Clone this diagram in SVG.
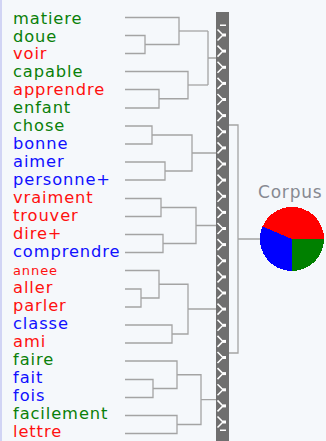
<svg xmlns="http://www.w3.org/2000/svg" xmlns:xlink="http://www.w3.org/1999/xlink" width="326" height="441" viewBox="0 0 326 441">
<style>
.lbl{font-family:"DejaVu Sans","Verdana",sans-serif;font-size:16.3px;letter-spacing:0.9px}
.g{fill:#0a800a}.r{fill:#ff1010}.b{fill:#1010ff}
.small{font-size:13px}
.ln{stroke:#a4a4a4;stroke-width:1.3;fill:none}
.corpus{font-family:"DejaVu Sans","Verdana",sans-serif;font-size:17px;letter-spacing:0.8px;fill:#878a92}
</style>
<defs>
<g id="chev"><path d="M-4.5,-5.5 L1,0 L-4.5,5.5" stroke="#fff" stroke-width="1.5" fill="none"/><rect x="1" y="-1.5" width="3" height="3" fill="#fff"/></g>
</defs>
<rect width="326" height="441" fill="#f5f8fb"/>
<line x1="1" y1="0" x2="1" y2="441" stroke="#c4c8f2" stroke-width="1.5"/>

<g id="labels">
<g id="n-matiere"><text class="lbl g" x="13" y="23.5">matiere</text></g>
<g id="n-doue"><text class="lbl g" x="13" y="41.5">doue</text></g>
<g id="n-voir"><text class="lbl r" x="13" y="59.4">voir</text></g>
<g id="n-capable"><text class="lbl g" x="13" y="77.4">capable</text></g>
<g id="n-apprendre"><text class="lbl r" x="13" y="95.3">apprendre</text></g>
<g id="n-enfant"><text class="lbl g" x="13" y="113.3">enfant</text></g>
<g id="n-chose"><text class="lbl g" x="13" y="131.3">chose</text></g>
<g id="n-bonne"><text class="lbl b" x="13" y="149.2">bonne</text></g>
<g id="n-aimer"><text class="lbl b" x="13" y="167.2">aimer</text></g>
<g id="n-personne"><text class="lbl b" x="13" y="185.1">personne+</text></g>
<g id="n-vraiment"><text class="lbl r" x="13" y="203.1">vraiment</text></g>
<g id="n-trouver"><text class="lbl r" x="13" y="221.1">trouver</text></g>
<g id="n-dire"><text class="lbl r" x="13" y="239">dire+</text></g>
<g id="n-comprendre"><text class="lbl b" x="13" y="257">comprendre</text></g>
<g id="n-annee"><text class="lbl r small" x="13" y="274.9">annee</text></g>
<g id="n-aller"><text class="lbl r" x="13" y="292.9">aller</text></g>
<g id="n-parler"><text class="lbl r" x="13" y="310.9">parler</text></g>
<g id="n-classe"><text class="lbl b" x="13" y="328.8">classe</text></g>
<g id="n-ami"><text class="lbl r" x="13" y="346.8">ami</text></g>
<g id="n-faire"><text class="lbl g" x="13" y="364.7">faire</text></g>
<g id="n-fait"><text class="lbl b" x="13" y="382.7">fait</text></g>
<g id="n-fois"><text class="lbl b" x="13" y="400.7">fois</text></g>
<g id="n-facilement"><text class="lbl g" x="13" y="418.6">facilement</text></g>
<g id="n-lettre"><text class="lbl r" x="13" y="436.6">lettre</text></g>
</g>

<g id="connectors" class="ln">
<path d="M125,35.5 H145 V53.5 H125"/>
<path d="M125,17.5 H179 V44.5 H145"/>
<path d="M179,31 H208"/>
<path d="M125,89.5 H159 V108 H125"/>
<path d="M125,71.5 H188 V98.75 H159"/>
<path d="M188,85 H208"/>
<path d="M208,31 V85 M208,58 H216"/>
<path d="M125,126 H152 V144 H125"/>
<path d="M125,162 H165 V180 H125"/>
<path d="M152,135 H192 V171 H165 M192,153 H216"/>
<path d="M125,198.5 H161 V216.5 H125"/>
<path d="M125,234.5 H163 V252.5 H125"/>
<path d="M161,207.5 H196 V243.5 H163 M196,225.5 H216"/>
<path d="M125,289 H141 V307 H125"/>
<path d="M125,270.5 H159 V298 H141"/>
<path d="M125,325 H172 V343 H125"/>
<path d="M159,284.25 H188 V334 H172 M188,309 H216"/>
<path d="M125,379.5 H153 V397.5 H125"/>
<path d="M125,361 H177 V388.5 H153"/>
<path d="M125,415.5 H177 V433.5 H125"/>
<path d="M177,374.75 H201 V424.5 H177 M201,399.6 H216"/>
<path d="M229,125 H238 V353 H229 M238,239 H260"/>
</g>

<g id="bar">
<rect x="216" y="12" width="13" height="429" fill="#6f6f6f"/>
<rect x="220" y="24.5" width="6" height="1.5" fill="#fff"/>
<use xlink:href="#chev" x="222" y="35"/>
<use xlink:href="#chev" x="222" y="51.1"/>
<use xlink:href="#chev" x="222" y="67.3"/>
<use xlink:href="#chev" x="222" y="83.4"/>
<use xlink:href="#chev" x="222" y="99.5"/>
<use xlink:href="#chev" x="222" y="115.6"/>
<use xlink:href="#chev" x="222" y="131.8"/>
<use xlink:href="#chev" x="222" y="147.9"/>
<use xlink:href="#chev" x="222" y="164"/>
<use xlink:href="#chev" x="222" y="180.1"/>
<use xlink:href="#chev" x="222" y="196.3"/>
<use xlink:href="#chev" x="222" y="212.4"/>
<use xlink:href="#chev" x="222" y="228.5"/>
<use xlink:href="#chev" x="222" y="244.6"/>
<use xlink:href="#chev" x="222" y="260.8"/>
<use xlink:href="#chev" x="222" y="276.9"/>
<use xlink:href="#chev" x="222" y="293"/>
<use xlink:href="#chev" x="222" y="309.1"/>
<use xlink:href="#chev" x="222" y="325.3"/>
<use xlink:href="#chev" x="222" y="341.4"/>
<use xlink:href="#chev" x="222" y="357.5"/>
<use xlink:href="#chev" x="222" y="373.6"/>
<use xlink:href="#chev" x="222" y="389.8"/>
<use xlink:href="#chev" x="222" y="405.9"/>
<use xlink:href="#chev" x="222" y="422"/>
<rect x="220" y="429.5" width="6" height="1.5" fill="#fff"/>
</g>

<g id="corpus">
<text class="corpus" x="258" y="198">Corpus</text>
<g shape-rendering="crispEdges">
<path d="M292,239 L324,239 A32,32 0 0 0 262.5,226.5 Z" fill="#ff0000"/>
<path d="M292,239 L324,239 A32,32 0 0 1 292,271 Z" fill="#008000"/>
<path d="M292,239 L292,271 A32,32 0 0 1 262.5,226.5 Z" fill="#0000ff"/>
</g>
</g>
</svg>
